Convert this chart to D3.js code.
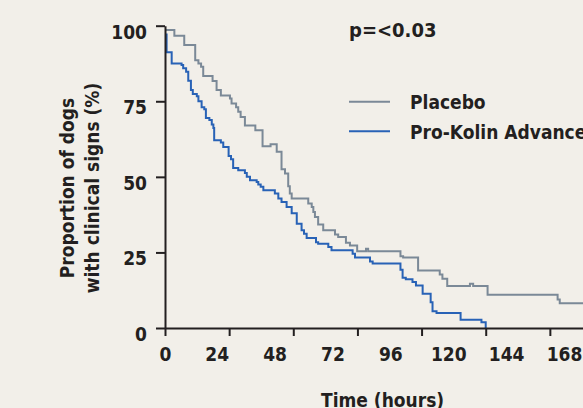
<!DOCTYPE html>
<html>
<head>
<meta charset="utf-8">
<script src="https://cdn.jsdelivr.net/npm/d3@7"></script>
<style>
  html, body { margin: 0; padding: 0; background: #f2efe9; }
  svg { display: block; }
  text { font-family: "DejaVu Sans Condensed", "DejaVu Sans", sans-serif; font-stretch: condensed; font-weight: bold; fill: #231f20; }
</style>
</head>
<body>
<svg id="km-chart"></svg>
<script>
// Kaplan-Meier style curves: proportion of dogs with clinical signs over time

// Placebo curve (time in hours, percent)
var placeboTime = [0, 3.5, 7.2, 11.3, 12.5, 13.5, 14.3, 17.8, 19.3, 20.9, 24.3, 24.9, 26.6, 27.4, 28.3, 29.9, 33.8, 36.5, 39.5, 41.8,
    43.6, 44.9, 46.1, 46.7, 47.4, 53.6, 54.9, 55.5, 56.1, 57.3, 59.2, 63.6, 64.8, 67.7, 69.2, 71.9, 75.2, 76.0, 88.1, 89.1,
    94.7, 102.8, 103.8, 105.6, 114.1, 115.3, 120.7, 146.9, 147.7, 168];
var placeboValue = [98.6, 96.7, 93.6, 88.6, 87.5, 86.4, 83.4, 81.7, 78.7, 76.9, 75.9, 74.3, 73.0, 71.5, 69.8, 67.0, 65.4, 60.1, 60.8, 58.3,
    52.5, 51.1, 46.9, 44.5, 42.8, 41.2, 40.0, 38.4, 36.7, 34.2, 32.3, 30.9, 30.1, 28.2, 27.3, 25.4, 26.2, 25.4, 23.7, 23.3,
    19.0, 17.7, 16.3, 13.9, 14.6, 13.9, 11.0, 9.4, 8.2, 8.2];

// Pro-Kolin Advance curve
var kolinTime = [0, 0.6, 2.5, 6.2, 6.8, 7.9, 8.7, 9.7, 10.4, 11.9, 12.5, 13.7, 14.7, 15.3, 16.6, 17.5, 18.1, 18.4, 20.9, 21.8,
    23.8, 24.7, 25.5, 27.4, 29.9, 30.6, 31.8, 34.3, 34.9, 35.8, 36.8, 41.1, 42.4, 43.6, 45.5, 47.4, 49.3, 51.1, 52.0, 53.0,
    56.5, 57.3, 61.1, 62.3, 70.2, 71.1, 76.7, 77.7, 88.1, 88.9, 90.1, 92.6, 93.9, 96.4, 99.4, 100.1, 101.6, 110.6, 118.4, 120];
var kolinValue = [97.1, 91.2, 87.5, 87.0, 85.9, 84.8, 81.8, 78.7, 77.4, 76.7, 75.0, 73.0, 72.4, 69.5, 68.8, 67.3, 66.2, 62.1, 61.4, 59.9,
    56.9, 55.8, 52.9, 52.2, 51.3, 50.0, 48.9, 48.3, 47.5, 46.7, 45.6, 44.5, 42.8, 41.7, 40.0, 38.0, 34.5, 32.3, 31.2, 29.8,
    28.4, 27.9, 26.8, 25.7, 24.6, 23.3, 22.0, 21.3, 19.3, 16.6, 16.1, 15.2, 14.1, 11.3, 8.5, 5.5, 5.0, 2.7, 1.9, 0];

var xTickValues = [0, 24, 48, 72, 96, 120, 144];
var xLabelValues = [0, 24, 48, 72, 96, 120, 144, 168];
var yTickValues = [0, 25, 50, 75, 100];

var seriesNames = ["Placebo", "Pro-Kolin Advance"];
var seriesColors = ["#7b8997", "#2862b6"];

var width = 583, height = 408;
var svg = d3.select("#km-chart").attr("width", width).attr("height", height);

// scales
var x = d3.scaleLinear().domain([0, 168]).range([165, 614]);
var y = d3.scaleLinear().domain([0, 100]).range([328, 25.7]);
// the printed labels sit on a slightly tighter spacing than the tick marks
var xLabel = d3.scaleLinear().domain([0, 24, 168]).range([165, 216.7, 564]);

var axisColor = "#231f20";

// curves
var line = d3.line()
    .x(function(d) { return x(d[0]); })
    .y(function(d) { return y(d[1]); })
    .curve(d3.curveStepAfter);

var series = [
    d3.zip(placeboTime, placeboValue),
    d3.zip(kolinTime, kolinValue)
];

svg.selectAll("path.curve")
    .data(series)
    .enter().append("path")
    .attr("class", "curve")
    .attr("d", line)
    .attr("fill", "none")
    .attr("stroke", function(d, i) { return seriesColors[i]; })
    .attr("stroke-width", 2);

// y axis
var yAxis = svg.append("g")
    .attr("transform", "translate(165,0)")
    .call(d3.axisLeft(y).tickValues(yTickValues).tickSize(9).tickSizeOuter(0).tickPadding(9));
yAxis.selectAll("text").attr("font-size", 19).attr("dy", "0.65em");

// x axis (tick marks only)
var xAxis = svg.append("g")
    .attr("transform", "translate(0,328)")
    .call(d3.axisBottom(x).tickValues(xTickValues).tickSize(8).tickSizeOuter(0).tickFormat(""));

// x labels
var xLabels = svg.append("g")
    .attr("transform", "translate(0,328)")
    .call(d3.axisBottom(xLabel).tickValues(xLabelValues).tickSize(0).tickPadding(20));
xLabels.select(".domain").remove();
xLabels.selectAll("text").attr("font-size", 19);

svg.selectAll(".domain, .tick line")
    .attr("stroke", axisColor)
    .attr("stroke-width", 2);
svg.selectAll(".tick text").attr("fill", axisColor).style("font-family", null);

// axis titles
svg.append("text")
    .attr("x", 382.6)
    .attr("y", 406.5)
    .attr("text-anchor", "middle")
    .attr("font-size", 19)
    .text("Time (hours)");

var yTitle = svg.append("text")
    .attr("transform", "translate(0,188) rotate(-90)")
    .attr("text-anchor", "middle")
    .attr("font-size", 19);
yTitle.append("tspan").attr("x", 0).attr("y", 74).text("Proportion of dogs");
yTitle.append("tspan").attr("x", 0).attr("y", 99.3).text("with clinical signs (%)");

// p value
svg.append("text")
    .attr("x", 349)
    .attr("y", 36.7)
    .attr("font-size", 20)
    .text("p=<0.03");

// legend
var legend = svg.append("g").attr("transform", "translate(349,101.7)");
legend.selectAll("g")
    .data(seriesNames)
    .enter().append("g")
    .attr("transform", function(d, i) { return "translate(0," + i * 29.6 + ")"; })
    .each(function(d, i) {
        var g = d3.select(this);
        g.append("line")
            .attr("x1", 0).attr("x2", 41)
            .attr("stroke", seriesColors[i])
            .attr("stroke-width", 2);
        g.append("text")
            .attr("x", 61)
            .attr("y", 7.6)
            .attr("font-size", 19)
            .text(d);
    });
</script>
</body>
</html>
